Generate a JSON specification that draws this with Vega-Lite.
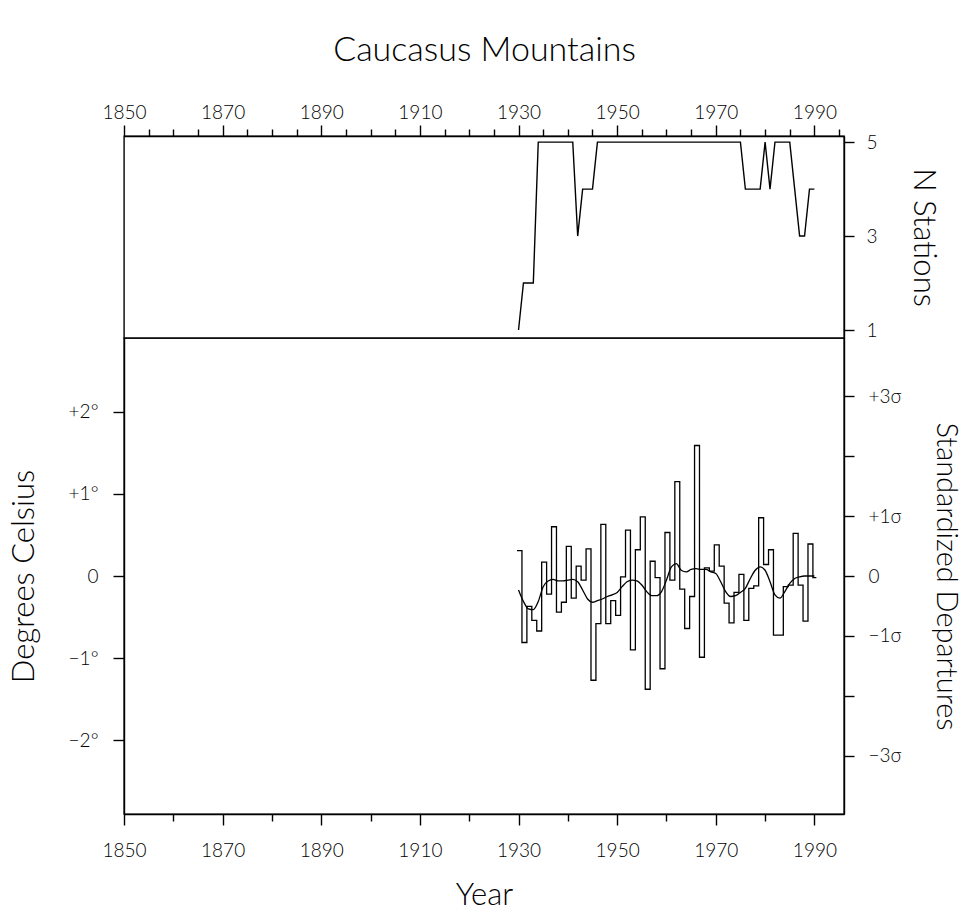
{
  "$schema": "https://vega.github.io/schema/vega-lite/v6.json",
  "background": "white",
  "padding": {"left": 7, "top": 32, "right": 0, "bottom": 8},
  "spacing": 0,
  "bounds": "flush",
  "config": {
    "font": "Lato",
    "view": {"stroke": "black", "strokeWidth": 1.4},
    "axis": {
      "grid": false,
      "domainColor": "black",
      "domainWidth": 1.4,
      "tickColor": "black",
      "tickWidth": 1.4,
      "labelColor": "black",
      "titleColor": "black",
      "labelFont": "Lato",
      "titleFont": "Lato",
      "labelFontWeight": 300,
      "titleFontWeight": 300,
      "labelFontSize": 19,
      "titleFontSize": 31
    }
  },
  "datasets": {
    "stations": [
      {"year": 1930, "n": 1}, {"year": 1931, "n": 2}, {"year": 1932, "n": 2}, {"year": 1933, "n": 2},
      {"year": 1934, "n": 5}, {"year": 1935, "n": 5}, {"year": 1936, "n": 5}, {"year": 1937, "n": 5},
      {"year": 1938, "n": 5}, {"year": 1939, "n": 5}, {"year": 1940, "n": 5}, {"year": 1941, "n": 5},
      {"year": 1942, "n": 3}, {"year": 1943, "n": 4}, {"year": 1944, "n": 4}, {"year": 1945, "n": 4},
      {"year": 1946, "n": 5}, {"year": 1947, "n": 5}, {"year": 1948, "n": 5}, {"year": 1949, "n": 5},
      {"year": 1950, "n": 5}, {"year": 1951, "n": 5}, {"year": 1952, "n": 5}, {"year": 1953, "n": 5},
      {"year": 1954, "n": 5}, {"year": 1955, "n": 5}, {"year": 1956, "n": 5}, {"year": 1957, "n": 5},
      {"year": 1958, "n": 5}, {"year": 1959, "n": 5}, {"year": 1960, "n": 5}, {"year": 1961, "n": 5},
      {"year": 1962, "n": 5}, {"year": 1963, "n": 5}, {"year": 1964, "n": 5}, {"year": 1965, "n": 5},
      {"year": 1966, "n": 5}, {"year": 1967, "n": 5}, {"year": 1968, "n": 5}, {"year": 1969, "n": 5},
      {"year": 1970, "n": 5}, {"year": 1971, "n": 5}, {"year": 1972, "n": 5}, {"year": 1973, "n": 5},
      {"year": 1974, "n": 5}, {"year": 1975, "n": 5}, {"year": 1976, "n": 4}, {"year": 1977, "n": 4},
      {"year": 1978, "n": 4}, {"year": 1979, "n": 4}, {"year": 1980, "n": 5}, {"year": 1981, "n": 4},
      {"year": 1982, "n": 5}, {"year": 1983, "n": 5}, {"year": 1984, "n": 5}, {"year": 1985, "n": 5},
      {"year": 1986, "n": 4}, {"year": 1987, "n": 3}, {"year": 1988, "n": 3}, {"year": 1989, "n": 4},
      {"year": 1990, "n": 4}
    ],
    "temps": [
      {"year": 1930, "t": 0.31}, {"year": 1931, "t": -0.81}, {"year": 1932, "t": -0.37}, {"year": 1933, "t": -0.54},
      {"year": 1934, "t": -0.67}, {"year": 1935, "t": 0.17}, {"year": 1936, "t": -0.22}, {"year": 1937, "t": 0.60},
      {"year": 1938, "t": -0.44}, {"year": 1939, "t": -0.32}, {"year": 1940, "t": 0.36}, {"year": 1941, "t": -0.27},
      {"year": 1942, "t": 0.12}, {"year": 1943, "t": -0.05}, {"year": 1944, "t": 0.33}, {"year": 1945, "t": -1.27},
      {"year": 1946, "t": -0.58}, {"year": 1947, "t": 0.63}, {"year": 1948, "t": -0.58}, {"year": 1949, "t": -0.30},
      {"year": 1950, "t": -0.48}, {"year": 1951, "t": -0.01}, {"year": 1952, "t": 0.56}, {"year": 1953, "t": -0.90},
      {"year": 1954, "t": 0.32}, {"year": 1955, "t": 0.72}, {"year": 1956, "t": -1.38}, {"year": 1957, "t": 0.18},
      {"year": 1958, "t": -0.02}, {"year": 1959, "t": -1.13}, {"year": 1960, "t": 0.53}, {"year": 1961, "t": -0.05},
      {"year": 1962, "t": 1.15}, {"year": 1963, "t": -0.16}, {"year": 1964, "t": -0.64}, {"year": 1965, "t": -0.25},
      {"year": 1966, "t": 1.59}, {"year": 1967, "t": -0.99}, {"year": 1968, "t": 0.10}, {"year": 1969, "t": 0.06},
      {"year": 1970, "t": 0.38}, {"year": 1971, "t": 0.12}, {"year": 1972, "t": -0.33}, {"year": 1973, "t": -0.57},
      {"year": 1974, "t": -0.20}, {"year": 1975, "t": 0.02}, {"year": 1976, "t": -0.54}, {"year": 1977, "t": -0.15},
      {"year": 1978, "t": -0.12}, {"year": 1979, "t": 0.71}, {"year": 1980, "t": 0.14}, {"year": 1981, "t": 0.32},
      {"year": 1982, "t": -0.72}, {"year": 1983, "t": -0.72}, {"year": 1984, "t": -0.13}, {"year": 1985, "t": -0.11},
      {"year": 1986, "t": 0.52}, {"year": 1987, "t": -0.11}, {"year": 1988, "t": -0.55}, {"year": 1989, "t": 0.39},
      {"year": 1990, "t": -0.02}, {"year": 1990.7, "t": -0.02}
    ],
    "smooth": [
      {"year": 1930, "s": -0.17}, {"year": 1931, "s": -0.31}, {"year": 1932, "s": -0.40}, {"year": 1933, "s": -0.41},
      {"year": 1934, "s": -0.31}, {"year": 1935, "s": -0.13}, {"year": 1936, "s": -0.06}, {"year": 1937, "s": -0.04},
      {"year": 1938, "s": -0.06}, {"year": 1939, "s": -0.06}, {"year": 1940, "s": -0.05}, {"year": 1941, "s": -0.04},
      {"year": 1942, "s": -0.07}, {"year": 1943, "s": -0.17}, {"year": 1944, "s": -0.28}, {"year": 1945, "s": -0.32},
      {"year": 1946, "s": -0.30}, {"year": 1947, "s": -0.28}, {"year": 1948, "s": -0.25}, {"year": 1949, "s": -0.23},
      {"year": 1950, "s": -0.20}, {"year": 1951, "s": -0.13}, {"year": 1952, "s": -0.07}, {"year": 1953, "s": -0.05},
      {"year": 1954, "s": -0.06}, {"year": 1955, "s": -0.11}, {"year": 1956, "s": -0.19}, {"year": 1957, "s": -0.24},
      {"year": 1958, "s": -0.24}, {"year": 1959, "s": -0.19}, {"year": 1960, "s": -0.05}, {"year": 1961, "s": 0.11},
      {"year": 1962, "s": 0.15}, {"year": 1963, "s": 0.07}, {"year": 1964, "s": 0.05}, {"year": 1965, "s": 0.08},
      {"year": 1966, "s": 0.09}, {"year": 1967, "s": 0.08}, {"year": 1968, "s": 0.08}, {"year": 1969, "s": 0.05},
      {"year": 1970, "s": 0.03}, {"year": 1971, "s": -0.07}, {"year": 1972, "s": -0.19}, {"year": 1973, "s": -0.25},
      {"year": 1974, "s": -0.24}, {"year": 1975, "s": -0.20}, {"year": 1976, "s": -0.15}, {"year": 1977, "s": -0.03},
      {"year": 1978, "s": 0.07}, {"year": 1979, "s": 0.11}, {"year": 1980, "s": 0.07}, {"year": 1981, "s": -0.07},
      {"year": 1982, "s": -0.23}, {"year": 1983, "s": -0.27}, {"year": 1984, "s": -0.19}, {"year": 1985, "s": -0.09},
      {"year": 1986, "s": -0.03}, {"year": 1987, "s": -0.01}, {"year": 1988, "s": 0.00}, {"year": 1989, "s": 0.00},
      {"year": 1990, "s": 0.00}
    ]
  },
  "vconcat": [
    {
      "width": 720,
      "height": 202,
      "data": {"name": "stations"},
      "mark": {"type": "line", "color": "black", "strokeWidth": 1.4},
      "encoding": {
        "x": {
          "field": "year", "type": "quantitative",
          "scale": {"domain": [1850, 1996], "nice": false, "zero": false},
          "axis": {
            "orient": "top",
            "values": [1850,1855,1860,1865,1870,1875,1880,1885,1890,1895,1900,1905,1910,1915,1920,1925,1930,1935,1940,1945,1950,1955,1960,1965,1970,1975,1980,1985,1990,1995],
            "format": "d",
            "labelExpr": "datum.value % 20 == 10 ? datum.label : ''",
            "tickSize": {"condition": {"test": "datum.value % 20 == 10", "value": 11}, "value": 7},
            "labelPadding": 3,
            "labelFlush": false,
            "labelOverlap": false,
            "title": "Caucasus Mountains",
            "titleFontSize": 34,
            "titlePadding": 36
          }
        },
        "y": {
          "field": "n", "type": "quantitative",
          "scale": {"domain": [0.83, 5.13], "nice": false, "zero": false},
          "axis": {
            "orient": "right",
            "values": [1, 3, 5],
            "tickSize": 10,
            "labelPadding": 12,
            "title": "N Stations",
            "titleAngle": 90,
            "titlePadding": 29
          }
        }
      }
    },
    {
      "width": 720,
      "height": 476,
      "layer": [
        {
          "data": {"name": "temps"},
          "mark": {"type": "line", "interpolate": "step-after", "color": "black", "strokeWidth": 1.3, "xOffset": -1.5},
          "encoding": {
            "x": {
              "field": "year", "type": "quantitative",
              "scale": {"domain": [1850, 1996], "nice": false, "zero": false},
              "axis": {
                "orient": "bottom",
                "values": [1850,1855,1860,1865,1870,1875,1880,1885,1890,1895,1900,1905,1910,1915,1920,1925,1930,1935,1940,1945,1950,1955,1960,1965,1970,1975,1980,1985,1990,1995],
                "format": "d",
                "labelExpr": "datum.value % 20 == 10 ? datum.label : ''",
                "tickSize": {"condition": {"test": "datum.value % 20 == 10", "value": 11}, "value": 7},
                "labelPadding": 16,
                "labelFlush": false,
                "labelOverlap": false,
                "title": "Year",
                "titlePadding": 20
              }
            },
            "y": {
              "field": "t", "type": "quantitative",
              "scale": {"domain": [-2.9, 2.9], "nice": false, "zero": false},
              "axis": {
                "orient": "left",
                "values": [-2, -1, 0, 1, 2],
                "labelExpr": "datum.value == 0 ? '0' : (datum.value > 0 ? '+' + datum.value + '°' : '−' + (-datum.value) + '°')",
                "tickSize": 11,
                "labelPadding": 15,
                "title": "Degrees Celsius",
                "titlePadding": 28
              }
            }
          }
        },
        {
          "data": {"name": "smooth"},
          "mark": {"type": "line", "interpolate": "monotone", "color": "black", "strokeWidth": 1.3},
          "encoding": {
            "x": {"field": "year", "type": "quantitative"},
            "y": {
              "field": "s", "type": "quantitative",
              "scale": {"domain": [-2.9, 2.9], "nice": false, "zero": false},
              "axis": null
            }
          }
        },
        {
          "mark": {"type": "rule", "color": "black", "strokeWidth": 1.4},
          "encoding": {
            "y": {
              "datum": 0, "type": "quantitative",
              "scale": {"domain": [-3.967, 3.967], "nice": false, "zero": false},
              "axis": {
                "orient": "right",
                "values": [-3, -2, -1, 0, 1, 2, 3],
                "labelExpr": "datum.value == 0 ? '0' : (abs(datum.value) == 2 ? '' : (datum.value > 0 ? '+' + datum.value + 'σ' : '−' + (-datum.value) + 'σ'))",
                "tickSize": 10,
                "labelPadding": 14,
                "title": "Standardized Departures",
                "titleAngle": 90,
                "titleFontSize": 29,
                "titlePadding": 29
              }
            }
          }
        }
      ],
      "resolve": {"scale": {"y": "independent"}}
    }
  ]
}
